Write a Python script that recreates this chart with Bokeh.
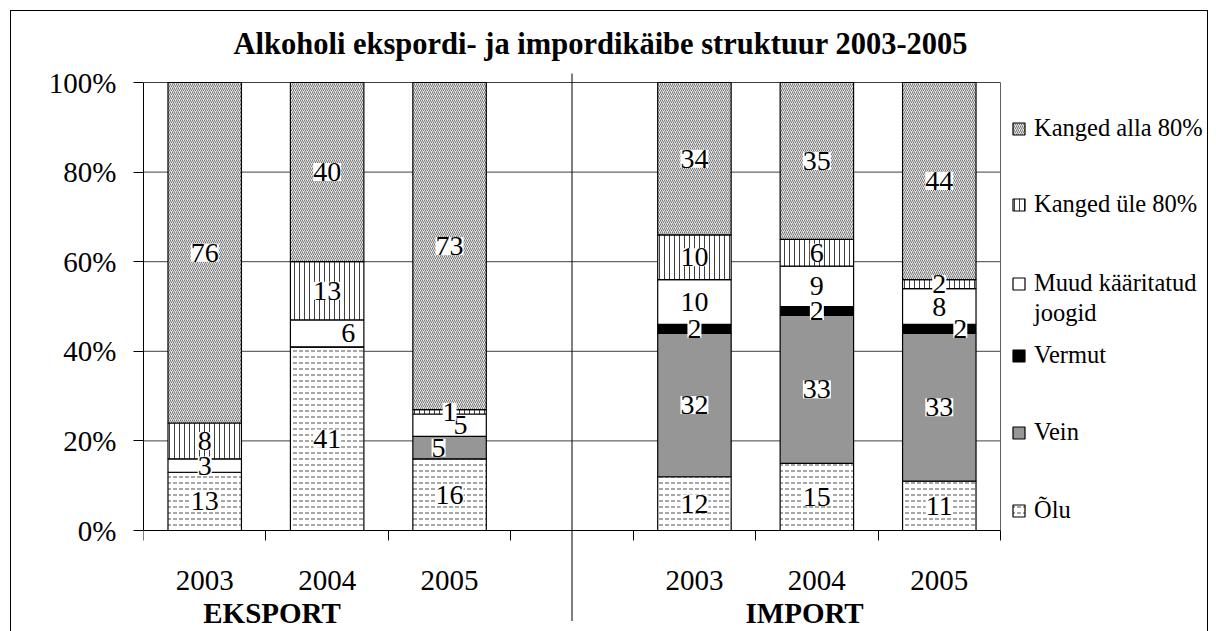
from bokeh.plotting import figure
from bokeh.models import (ColumnDataSource, FixedTicker, LabelSet, Legend, LegendItem,
                          LinearAxis, Range1d, PrintfTickFormatter)
from bokeh.core.properties import value
from bokeh.embed import file_html
from bokeh.resources import INLINE

# ---------------- data ----------------
groups = ["EKSPORT", "IMPORT"]
years = ["2003", "2004", "2005"]
series = ["Õlu", "Vein", "Vermut", "Muud kääritatud joogid", "Kanged üle 80%", "Kanged alla 80%"]
olu = [13, 41, 16, 12, 15, 11]
vein = [0, 0, 5, 32, 33, 33]
vermut = [0, 0, 0, 2, 2, 2]
muud = [3, 6, 5, 10, 9, 8]
kanged_ule = [8, 13, 1, 10, 6, 2]
kanged_alla = [76, 40, 73, 34, 35, 44]
y_ticks = [0, 20, 40, 60, 80, 100]
title_text = "Alkoholi ekspordi- ja impordikäibe struktuur 2003-2005"

values = [olu, vein, vermut, muud, kanged_ule, kanged_alla]

# ---------------- slot layout ----------------
n_years = len(years)
xs, xlabels = [], []
for gi, g in enumerate(groups):
    for yi, yr in enumerate(years):
        xs.append(gi * (n_years + 1) + yi + 1)
        xlabels.append(yr)
divider_x = n_years + 1
x_lo = 0.5
x_axis_end = len(groups) * (n_years + 1) - 0.5
boundaries = [x_lo + i for i in range(int(x_axis_end - x_lo) + 1)]
group_label_x = [1.55, 5.9]

# frame geometry (pixels); frame extended so legend/divider are not clipped
FRAME_W, FRAME_H = 1064, 565
PX_SLOT = 122.43          # pixels per slot
PX_PCT = 4.48             # pixels per percent
x_hi = x_lo + FRAME_W / PX_SLOT
y_hi = 100 + 16 / PX_PCT
y_lo = y_hi - FRAME_H / PX_PCT

FONT = "Liberation Serif"

styles = {
    "Õlu": dict(fill_color="white", hatch_pattern="horizontal_dash", hatch_color="#505050",
                hatch_scale=6, hatch_weight=1),
    "Vein": dict(fill_color="#969696"),
    "Vermut": dict(fill_color="black"),
    "Muud kääritatud joogid": dict(fill_color="white"),
    "Kanged üle 80%": dict(fill_color="white", hatch_pattern="vertical_line", hatch_color="#404040",
                          hatch_scale=5, hatch_weight=1),
    "Kanged alla 80%": dict(fill_color="#e6e6e6", hatch_pattern="right_diagonal_line",
                           hatch_color="#777777", hatch_scale=4, hatch_weight=1),
}

p = figure(frame_width=FRAME_W, frame_height=FRAME_H,
           x_range=Range1d(x_lo, x_hi), y_range=Range1d(y_lo, y_hi),
           output_backend="svg", toolbar_location=None, x_axis_type=None,
           min_border_left=132, min_border_right=0, min_border_top=55, min_border_bottom=0)
p.styles = {"border": "1px solid black", "margin": "10px 0 0 10px"}
p.outline_line_color = None
p.background_fill_color = "white"
p.border_fill_color = "white"
p.xgrid.visible = False
p.ygrid.visible = False

# gridlines (horizontal) and the right edge of the plot area
grid_src = ColumnDataSource(dict(y=y_ticks[1:]))
p.segment(x0=x_lo, x1=x_axis_end, y0="y", y1="y", source=grid_src,
          line_color="#404040", line_width=1)
p.segment(x0=[x_axis_end], x1=[x_axis_end], y0=[0], y1=[100], line_color="#606060", line_width=1)

# divider between EKSPORT and IMPORT
p.segment(x0=[divider_x], x1=[divider_x], y0=[-20.2], y1=[102], line_color="black", line_width=1)

# stacked bars
renderers = {}
bottoms = [0] * len(xs)
label_x, label_y, label_t, label_dx = [], [], [], []
label_nudges = {("Muud kääritatud joogid", 1): 21, ("Vein", 2): -11,
                ("Muud kääritatud joogid", 2): 11, ("Vermut", 5): 21}
for name, vals in zip(series, values):
    tops = [b + v for b, v in zip(bottoms, vals)]
    src = ColumnDataSource(dict(x=xs, bottom=bottoms, top=tops))
    r = p.vbar(x="x", bottom="bottom", top="top", width=0.6, source=src,
               line_color="black", line_width=1.2, **styles[name])
    renderers[name] = r
    for i, v in enumerate(vals):
        if v > 0:
            label_x.append(xs[i])
            label_y.append(bottoms[i] + v / 2)
            label_t.append(str(v))
            label_dx.append(label_nudges.get((name, i), 0))
    bottoms = tops

lab_src = ColumnDataSource(dict(x=label_x, y=label_y, text=label_t, dx=label_dx))
p.add_layout(LabelSet(x="x", y="y", text="text", x_offset="dx", source=lab_src,
                      text_align="center", text_baseline="middle",
                      text_font=value(FONT), text_font_size="28px", text_color="black",
                      background_fill_color="white"))

# y axis
p.yaxis.ticker = FixedTicker(ticks=y_ticks)
p.yaxis.bounds = (0, 100)
p.yaxis.formatter = PrintfTickFormatter(format="%d%%")
p.yaxis.major_tick_out = 10
p.yaxis.major_tick_in = 0
p.yaxis.minor_tick_line_color = None
p.yaxis.major_label_standoff = 17
p.yaxis.major_label_text_font = FONT
p.yaxis.major_label_text_font_size = "29px"
p.yaxis.major_label_text_color = "black"
p.yaxis.axis_line_color = "black"
p.yaxis.major_tick_line_color = "black"

# x axis at 0%: year labels, tick marks at slot boundaries
xa = LinearAxis(ticker=FixedTicker(ticks=xs, minor_ticks=boundaries),
                fixed_location=0, bounds=(x_lo, x_axis_end),
                major_label_overrides={x: t for x, t in zip(xs, xlabels)},
                major_tick_out=0, major_tick_in=0, minor_tick_out=10, minor_tick_in=0,
                minor_tick_line_color="black", axis_line_color="black",
                major_label_standoff=30, major_label_text_font=FONT,
                major_label_text_font_size="29px", major_label_text_color="black")
p.add_layout(xa, "below")
ga = LinearAxis(ticker=FixedTicker(ticks=group_label_x), fixed_location=0,
                major_label_overrides={x: g for x, g in zip(group_label_x, groups)},
                axis_line_color=None, major_tick_line_color=None, minor_tick_line_color=None,
                major_tick_out=0, major_tick_in=0, major_label_standoff=66,
                major_label_text_font=FONT, major_label_text_font_size="29px",
                major_label_text_font_style="bold", major_label_text_color="black")
p.add_layout(ga, "below")

# title
p.title.text = title_text
p.title.text_font = FONT
p.title.text_font_size = "30.5px"
p.title.text_font_style = "bold"
p.title.text_color = "black"
p.title.align = "left"
p.title.offset = 90
p.title.standoff = 12

# legend: one small legend per row to reproduce the original spacing
dummy = p.vbar(x=[], top=[], width=0.1, fill_alpha=0, line_alpha=0)
legend_rows = [("Kanged alla 80%", renderers["Kanged alla 80%"], 128),
               ("Kanged üle 80%", renderers["Kanged üle 80%"], 204),
               ("Muud kääritatud", renderers["Muud kääritatud joogid"], 283),
               ("joogid", dummy, 313),
               ("Vermut", renderers["Vermut"], 355),
               ("Vein", renderers["Vein"], 432),
               ("Õlu", renderers["Õlu"], 510)]
frame_bottom_px = 66 + FRAME_H
for lbl, rend, yc in legend_rows:
    leg = Legend(items=[LegendItem(label=lbl, renderers=[rend])],
                 location=(1011 - 143, frame_bottom_px - yc - 15), padding=0, margin=0, spacing=0,
                 glyph_width=15, glyph_height=15, label_height=30, label_standoff=8,
                 label_text_font=FONT, label_text_font_size="24.5px", label_text_color="black",
                 border_line_color=None, background_fill_alpha=0)
    p.add_layout(leg)

open("out.html", "w").write(file_html(p, INLINE))
